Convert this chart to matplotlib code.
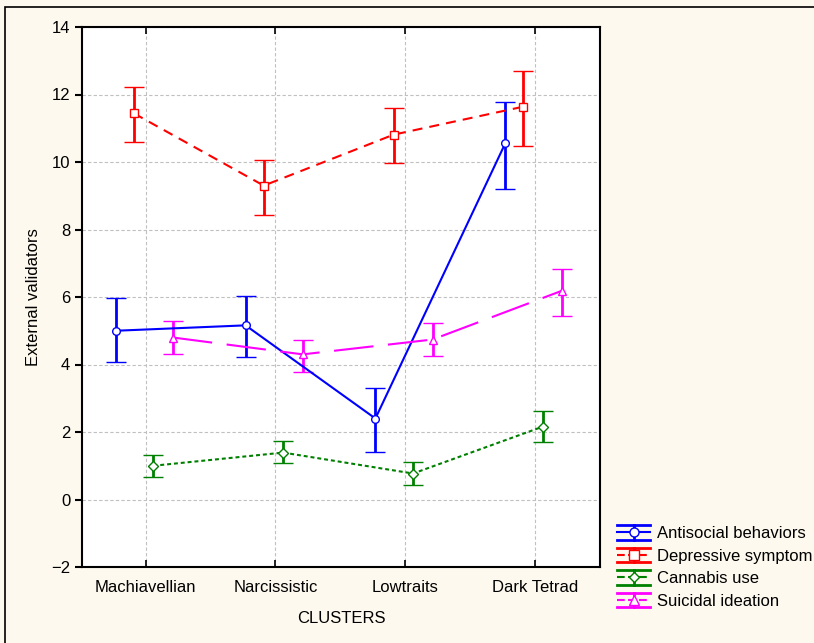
import numpy as np
import matplotlib
matplotlib.use("Agg")
import matplotlib.pyplot as plt
from matplotlib.patches import Rectangle
from matplotlib.lines import Line2D
from matplotlib.legend_handler import HandlerBase

plt.rcParams["font.family"] = ["Liberation Sans", "DejaVu Sans"]

# ---------------------------------------------------------------------------
# Data
# ---------------------------------------------------------------------------
clusters = ["Machiavellian", "Narcissistic", "Lowtraits", "Dark Tetrad"]

antisocial = [5.00, 5.16, 2.40, 10.55]
antisocial_lo = [4.06, 4.21, 1.42, 9.21]
antisocial_hi = [5.96, 6.04, 3.29, 11.79]

depressive = [11.44, 9.30, 10.81, 11.64]
depressive_lo = [10.58, 8.44, 9.96, 10.46]
depressive_hi = [12.22, 10.07, 11.59, 12.71]

cannabis = [1.00, 1.39, 0.77, 2.16]
cannabis_lo = [0.68, 1.07, 0.44, 1.69]
cannabis_hi = [1.33, 1.72, 1.10, 2.61]

suicidal = [4.80, 4.30, 4.74, 6.19]
suicidal_lo = [4.30, 3.79, 4.24, 5.45]
suicidal_hi = [5.30, 4.74, 5.24, 6.84]

series_names = ["Antisocial behaviors", "Depressive symptom",
                "Cannabis use", "Suicidal ideation"]


class ErrorBoxHandler(HandlerBase):
    """Legend key: full-width caps top and bottom, a vertical bar, and the
    series line with its marker across the middle."""

    def create_artists(self, legend, orig, xdescent, ydescent, width, height,
                       fontsize, trans):
        col = orig.get_color()
        x0, x1 = -xdescent, -xdescent + width
        yc = -ydescent + height / 2
        half = height * 0.5
        xm = (x0 + x1) / 2
        arts = [
            Line2D([x0, x1], [yc + half] * 2, color=col, lw=2),
            Line2D([x0, x1], [yc - half] * 2, color=col, lw=2),
            Line2D([xm, xm], [yc - half, yc + half], color=col, lw=2),
            Line2D([x0, x1], [yc, yc], color=col, lw=1.5,
                   linestyle=orig.get_linestyle()),
            Line2D([xm], [yc], color=col, marker=orig.get_marker(),
                   markersize=orig.get_markersize(),
                   markerfacecolor="white", markeredgecolor=col,
                   markeredgewidth=1),
        ]
        for a in arts:
            a.set_transform(trans)
        return arts


# ---------------------------------------------------------------------------
# Plot
# ---------------------------------------------------------------------------
fig = plt.figure(figsize=(8.14, 6.43), dpi=100)
fig.patch.set_facecolor("#fdf9ee")
fig.patches.append(Rectangle((5 / 814, -0.1), 1.2, 1.1 - 7.5 / 643,
                             transform=fig.transFigure, fill=False,
                             edgecolor="black", linewidth=1.2))

ax = fig.add_axes([82 / 814, 1 - 567 / 643, 518 / 814, 540 / 643])
ax.set_facecolor("white")

x = np.arange(len(clusters))
styles = [
    (antisocial, antisocial_lo, antisocial_hi, "blue", "o", "-", -0.23),
    (depressive, depressive_lo, depressive_hi, "red", "s", (0, (4.8, 3.4)), -0.09),
    (cannabis, cannabis_lo, cannabis_hi, "green", "D", (0, (1.9, 1.4)), 0.06),
    (suicidal, suicidal_lo, suicidal_hi, "magenta", "^", (0, (19, 7)), 0.21),
]

keys = []
for (vals, lo, hi, col, mk, ls, off), name in zip(styles, series_names):
    vals = np.array(vals)
    yerr = [vals - np.array(lo), np.array(hi) - vals]
    ax.errorbar(x + off, vals, yerr=yerr, color=col, ecolor=col,
                linestyle=ls, linewidth=1.5, elinewidth=2, capsize=7,
                capthick=2, marker=mk, markersize=5.5 if mk != "D" else 5,
                markerfacecolor="white", markeredgecolor=col,
                markeredgewidth=1, zorder=3)
    keys.append(Line2D([], [], color=col, linestyle=ls, marker=mk,
                       markersize=6.5 if mk != "D" else 5.5))

ax.set_xlim(-0.49, 3.5)
ax.set_ylim(-2, 14)
ax.set_xticks(x)
ax.set_xticklabels(clusters)
ax.set_yticks(np.arange(-2, 15, 2))
ax.tick_params(axis="x", direction="in", top=True, length=5, width=1.2,
               labelsize=12, pad=9)
ax.tick_params(axis="y", direction="out", length=5, width=1.5, labelsize=12)
ax.grid(True, color="#c0c0c0", linestyle=(0, (3, 2)), linewidth=0.8)
ax.set_axisbelow(True)
for sp in ax.spines.values():
    sp.set_linewidth(1.5)

ax.set_xlabel("CLUSTERS", fontsize=12, labelpad=12)
ax.set_ylabel("External validators", fontsize=12, labelpad=7)

fig.legend(handles=keys, labels=series_names, loc="upper left",
           handler_map={Line2D: ErrorBoxHandler()},
           bbox_to_anchor=(617 / 814, 1 - 525 / 643), frameon=False,
           fontsize=12, handlelength=2.0, handleheight=1.0,
           handletextpad=0.4, labelspacing=0.38, borderaxespad=0,
           borderpad=0)

fig.savefig("out.png", dpi=100, facecolor=fig.get_facecolor())
